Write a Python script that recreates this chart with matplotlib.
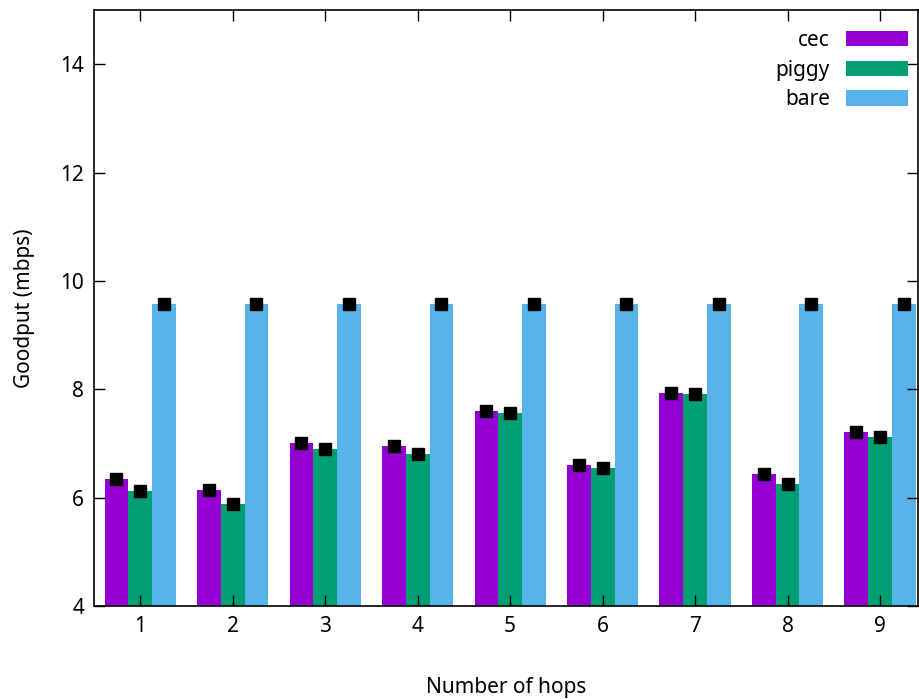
import matplotlib.pyplot as plt
import numpy as np
from matplotlib.patches import Patch

plt.rcParams['font.family'] = ['Noto Sans', 'DejaVu Sans']

hops = [1, 2, 3, 4, 5, 6, 7, 8, 9]
cec = [6.34, 6.14, 7.01, 6.95, 7.60, 6.60, 7.93, 6.43, 7.21]
piggy = [6.12, 5.89, 6.89, 6.81, 7.57, 6.54, 7.92, 6.26, 7.11]
bare = [9.58, 9.58, 9.58, 9.58, 9.58, 9.58, 9.58, 9.58, 9.58]
cec_err = [0.03] * 9
piggy_err = [0.03] * 9
bare_err = [0.02] * 9

series = [('cec', cec, cec_err, '#9400d3'),
          ('piggy', piggy, piggy_err, '#009e73'),
          ('bare', bare, bare_err, '#56b4e9')]

fig = plt.figure(figsize=(9.19, 6.99), dpi=100)
ax = fig.add_axes([94 / 919, 93 / 699, 824 / 919, 596 / 699])

x = np.array(hops, dtype=float)
w = 0.257
for i, (name, vals, errs, col) in enumerate(series):
    xs = x + (i - 1) * w
    ax.bar(xs, vals, width=w, color=col, edgecolor='none', bottom=0)
    ax.errorbar(xs, vals, yerr=errs, fmt='s', color='black', ms=8,
                capsize=4.5, elinewidth=1, capthick=1.2)

ax.set_xlim(0.5, 9.41)
ax.set_ylim(4, 15)
ax.set_xticks(hops)
ax.set_yticks([4, 6, 8, 10, 12, 14])
ax.tick_params(direction='in', length=8, width=1, labelsize=15,
               top=True, right=True, pad=7)
for s in ax.spines.values():
    s.set_linewidth(1.2)

ax.set_xlabel('Number of hops', fontsize=15, labelpad=29)
ax.set_ylabel('Goodput (mbps)', fontsize=15, labelpad=18)

handles = [Patch(facecolor=c, edgecolor='none') for _, _, _, c in series]
labels = [n for n, _, _, _ in series]
ax.legend(handles, labels, loc='upper right', frameon=False, markerfirst=False,
          fontsize=15, handlelength=3.0, handleheight=0.75, labelspacing=0.42,
          borderaxespad=0.45, handletextpad=0.75, borderpad=0.5,
          bbox_to_anchor=(1.012, 1.0))

fig.savefig('out.png', dpi=100)
